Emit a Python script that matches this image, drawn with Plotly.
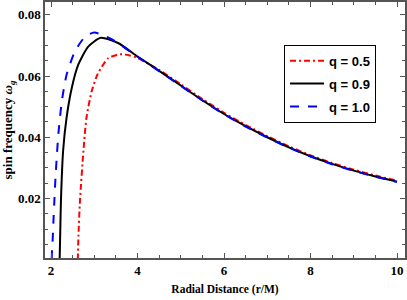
import plotly.graph_objects as go

# q = 0.5 (red, dash-dot)
r_q05 = [2.62, 2.635, 2.67, 2.75, 2.82, 2.94, 3.08, 3.32, 3.6, 3.8, 4.0, 4.5, 5.0, 5.5, 6.0, 6.5, 7.0, 7.5, 8.0, 8.5, 9.0, 9.5, 10.0]
w_q05 = [0.0, 0.008, 0.0194, 0.0356, 0.0464, 0.0550, 0.0607, 0.0658, 0.0671, 0.0668, 0.0659, 0.0620, 0.0573, 0.0525, 0.0480, 0.0440, 0.0404, 0.0370, 0.0341, 0.0316, 0.0294, 0.0275, 0.0258]

# q = 0.9 (black, solid)
r_q09 = [2.2, 2.212, 2.23, 2.28, 2.36, 2.48, 2.63, 2.86, 3.15, 3.55, 4.0, 4.5, 5.0, 5.5, 6.0, 6.5, 7.0, 7.5, 8.0, 8.5, 9.0, 9.5, 10.0]
w_q09 = [0.0, 0.008, 0.0194, 0.0356, 0.0464, 0.0561, 0.0637, 0.0696, 0.0725, 0.0708, 0.0664, 0.0617, 0.0569, 0.0521, 0.0476, 0.0436, 0.0400, 0.0367, 0.0338, 0.0313, 0.0291, 0.0272, 0.0255]

# q = 1.0 (blue, dashed)
r_q10 = [2.015, 2.025, 2.04, 2.06, 2.08, 2.10, 2.135, 2.17, 2.25, 2.36, 2.55, 2.79, 3.0, 3.4, 4.0, 4.5, 5.0, 5.5, 6.0, 6.5, 7.0, 7.5, 8.0, 8.5, 9.0, 9.5, 10.0]
w_q10 = [0.0, 0.0035, 0.007, 0.0139, 0.0200, 0.0258, 0.0340, 0.0410, 0.0518, 0.0604, 0.0680, 0.0729, 0.0742, 0.0721, 0.0663, 0.0616, 0.0568, 0.0520, 0.0475, 0.0435, 0.0399, 0.0366, 0.0337, 0.0312, 0.0290, 0.0271, 0.0254]

x_ticks = [2, 4, 6, 8, 10]
y_ticks = [0.02, 0.04, 0.06, 0.08]
y_tick_labels = ["0.02", "0.04", "0.06", "0.08"]

fig = go.Figure()
fig.add_trace(go.Scatter(x=r_q05, y=w_q05, mode="lines", name="<b>q = 0.5</b>",
                         line=dict(color="red", width=2, dash="6px,3px,2px,3px", shape="spline", smoothing=0.6),
                         legendgroup="a"))
fig.add_trace(go.Scatter(x=r_q09, y=w_q09, mode="lines", name="<b>q = 0.9</b>",
                         line=dict(color="black", width=2, shape="spline", smoothing=0.6),
                         legendgroup="b"))
fig.add_trace(go.Scatter(x=r_q10, y=w_q10, mode="lines", name="<b>q = 1.0</b>",
                         line=dict(color="blue", width=2, dash="dash", shape="spline", smoothing=0.6),
                         legendgroup="c"))

axis_common = dict(showgrid=False, zeroline=False, showline=True, linecolor="#555555",
                   linewidth=1.5, mirror="ticks", ticks="inside", ticklen=5, tickcolor="#555555",
                   tickfont=dict(family="Liberation Serif", size=13, color="black"))

fig.update_xaxes(range=[1.861, 10.185], tickvals=x_ticks, ticktext=[f"<b>{v}</b>" for v in x_ticks],
                 minor=dict(dtick=0.5, ticks="inside", ticklen=3, tickcolor="#555555"),
                 title=dict(text="<b>Radial Distance (r/M)</b>",
                            font=dict(family="Liberation Serif", size=11.5, color="black"), standoff=8),
                 **axis_common)
fig.update_yaxes(range=[0.00054, 0.0842], tickvals=y_ticks, ticktext=[f"<b>{t}</b>" for t in y_tick_labels],
                 minor=dict(dtick=0.005, ticks="inside", ticklen=3, tickcolor="#555555"),
                 title=dict(text="<b>spin frequency <i>ω<sub>g</sub></i></b>",
                            font=dict(family="Liberation Serif", size=13, color="black"), standoff=4),
                 **axis_common)

fig.update_layout(
    width=407, height=300,
    margin=dict(l=45, r=2, t=0, b=42),
    plot_bgcolor="white", paper_bgcolor="white",
    showlegend=True,
    legend=dict(x=0.664, y=0.833, xanchor="left", yanchor="top",
                bordercolor="black", borderwidth=1, bgcolor="white",
                font=dict(family="Liberation Sans", size=13, color="black"),
                tracegroupgap=3, itemwidth=34),
)

fig.write_html("out.html", config={"displayModeBar": False})

with open("out.html", "r", encoding="utf-8") as f:
    html = f.read()
html = html.replace("<head>", "<head><style>html,body{margin:0;padding:0;overflow:hidden;}</style>", 1)
with open("out.html", "w", encoding="utf-8") as f:
    f.write(html)
